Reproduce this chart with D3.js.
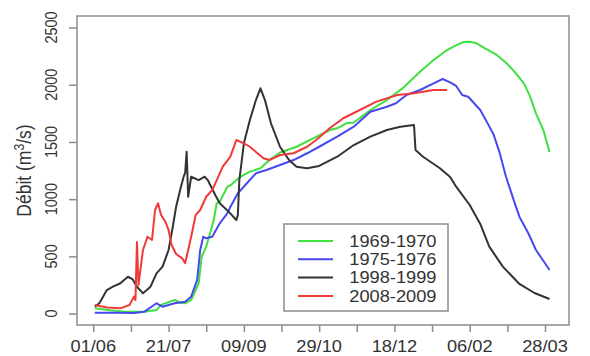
<!DOCTYPE html>
<html>
<head>
<meta charset="utf-8">
<script src="https://cdn.jsdelivr.net/npm/d3@7"></script>
<style>
  body { margin: 0; background: #fff; }
  svg { display: block; font-family: "Liberation Sans", Arial, sans-serif; }
</style>
</head>
<body>
<svg id="chart" width="590" height="356"></svg>
<script>
// ----- //
// data (day since 01/06, discharge in m3/s)
// ----- //
const seriesNames = ["1969-1970", "1975-1976", "1998-1999", "2008-2009"];

const q1969 = [[1,46],[11,30],[21,17],[34,17],[42,31],[45,75],[50,100],[54,119],[58,93],[61,90],[65,119],[68,206],[70,265],[72,497],[75,585],[80,818],[82,964],[84,978],[89,1109],[91,1120],[97,1190],[104,1240],[111,1270],[117,1342],[124,1408],[135,1458],[146,1532],[157,1604],[162,1619],[168,1663],[173,1670],[184,1779],[195,1866],[206,1975],[217,2114],[226,2216],[235,2303],[240,2340],[246,2373],[250,2375],[254,2365],[261,2312],[268,2260],[275,2181],[280,2110],[286,2012],[290,1900],[294,1750],[299,1600],[303,1412]];

const q1975 = [[1,8],[16,8],[27,5],[34,17],[42,90],[46,60],[54,90],[61,104],[65,148],[69,294],[71,556],[73,672],[75,658],[79,672],[84,789],[89,876],[91,931],[96,1051],[102,1139],[108,1226],[115,1255],[124,1298],[133,1342],[142,1401],[150,1458],[162,1546],[173,1633],[184,1764],[195,1808],[201,1838],[208,1910],[217,1954],[226,2012],[232,2050],[237,2020],[241,1989],[245,1910],[249,1895],[257,1779],[262,1660],[266,1560],[270,1400],[274,1200],[279,1000],[283,847],[289,700],[294,556],[299,460],[303,381]];

const q1998 = [[1,60],[4,90],[9,206],[13,235],[18,265],[23,322],[26,302],[29,235],[33,177],[38,235],[42,352],[46,410],[50,556],[53,774],[55,934],[58,1097],[60,1196],[61,1229],[62,1415],[63,1021],[65,1196],[70,1167],[74,1196],[76,1167],[81,1036],[84,964],[91,876],[95,818],[96,862],[97,1167],[100,1488],[104,1692],[108,1866],[111,1969],[114,1866],[118,1663],[124,1458],[130,1342],[135,1284],[142,1270],[150,1290],[162,1371],[173,1473],[184,1546],[195,1604],[204,1633],[213,1648],[214,1430],[219,1371],[230,1272],[237,1194],[241,1109],[250,949],[257,783],[263,585],[272,410],[283,259],[293,180],[303,128]];

const q2008 = [[1,75],[9,53],[18,46],[24,75],[27,148],[28,119],[29,626],[30,250],[31,352],[33,556],[36,672],[39,643],[41,905],[43,964],[45,862],[48,800],[50,730],[52,600],[55,521],[59,483],[61,440],[63,556],[65,672],[68,862],[71,905],[75,1021],[79,1080],[82,1167],[86,1284],[91,1371],[95,1517],[100,1488],[104,1458],[109,1401],[113,1357],[117,1342],[124,1386],[133,1401],[142,1458],[148,1517],[157,1619],[166,1707],[177,1779],[188,1852],[202,1910],[213,1925],[226,1954],[235,1954]];

const xTickDays = [0, 25, 50, 75, 100, 125, 150, 175, 200, 225, 250, 275, 300];
const xTickLabels = ["01/06", "", "21/07", "", "09/09", "", "29/10", "", "18/12", "", "06/02", "", "28/03"];
const yTicks = [0, 500, 1000, 1500, 2000, 2500];

// ----- //
// styling
// ----- //
const seriesColors = ["#40e040", "#4848f0", "#333333", "#f03a3a"];
const frameColor = "#8c8c8c";
const textColor = "#333";
const sx = 1.14;  // the picture is a bit stretched horizontally

const plot = { left: 77, right: 569, top: 16, bottom: 325 };

const x = d3.scaleLinear().domain([0, 300]).range([93.3, 545]);
const y = d3.scaleLinear().domain([0, 2500]).range([313.6, 27.5]);

const svg = d3.select("#chart");

// ----- //
// lines
// ----- //
const line = d3.line().x(d => x(d[0])).y(d => y(d[1]));
[q1969, q1975, q1998, q2008].forEach((s, i) => {
    svg.append("path")
        .datum(s)
        .attr("fill", "none")
        .attr("stroke", seriesColors[i])
        .attr("stroke-width", 2)
        .attr("stroke-linejoin", "round")
        .attr("d", line);
});

// ----- //
// axes (tick marks from d3, labels drawn by hand so they can be rotated / stretched)
// ----- //
const xAxis = svg.append("g")
    .attr("transform", `translate(0,${plot.bottom})`)
    .call(d3.axisBottom(x).tickValues(xTickDays).tickSize(7).tickFormat(""));
xAxis.select(".domain").remove();
xAxis.selectAll("line").attr("stroke", frameColor).attr("stroke-width", 1.5);

svg.append("g").selectAll("text")
    .data(xTickDays)
    .join("text")
    .attr("transform", d => `translate(${x(d)},${plot.bottom + 26.5}) scale(${sx},1)`)
    .attr("text-anchor", "middle")
    .attr("font-size", 16)
    .attr("fill", textColor)
    .text((d, i) => xTickLabels[i]);

const yAxis = svg.append("g")
    .attr("transform", `translate(${plot.left},0)`)
    .call(d3.axisLeft(y).tickValues(yTicks).tickSize(8).tickFormat(""));
yAxis.select(".domain").remove();
yAxis.selectAll("line").attr("stroke", frameColor).attr("stroke-width", 1.5);

svg.append("g").selectAll("text")
    .data(yTicks)
    .join("text")
    .attr("transform", d => `translate(${plot.left - 20.3},${y(d)}) scale(${sx},1) rotate(-90)`)
    .attr("text-anchor", "middle")
    .attr("font-size", 14.5)
    .attr("fill", textColor)
    .text(d => d);

// frame
svg.append("rect")
    .attr("x", plot.left)
    .attr("y", plot.top)
    .attr("width", plot.right - plot.left)
    .attr("height", plot.bottom - plot.top)
    .attr("fill", "none")
    .attr("stroke", frameColor)
    .attr("stroke-width", 1.5);

// y title
const title = svg.append("text")
    .attr("transform", `translate(31,${(plot.top + plot.bottom) / 2}) scale(${sx},1) rotate(-90)`)
    .attr("text-anchor", "middle")
    .attr("font-size", 17.5)
    .attr("fill", textColor);
title.append("tspan").text("Débit (m");
title.append("tspan").attr("font-size", "70%").attr("dy", "-0.5em").text("3");
title.append("tspan").attr("dy", "0.35em").text("/s)");

// ----- //
// legend
// ----- //
const legend = svg.append("g");
legend.append("rect")
    .attr("x", 284).attr("y", 224)
    .attr("width", 164).attr("height", 87)
    .attr("fill", "#fff")
    .attr("stroke", frameColor)
    .attr("stroke-width", 1.5);

seriesNames.forEach((name, i) => {
    const ly = 241 + i * 18.3;
    legend.append("line")
        .attr("x1", 298).attr("x2", 333)
        .attr("y1", ly).attr("y2", ly)
        .attr("stroke", seriesColors[i])
        .attr("stroke-width", 2);
    legend.append("text")
        .attr("transform", `translate(349.3,${ly}) scale(${sx},1)`)
        .attr("dy", "0.36em")
        .attr("font-size", 16)
        .attr("fill", textColor)
        .text(name);
});
</script>
</body>
</html>
